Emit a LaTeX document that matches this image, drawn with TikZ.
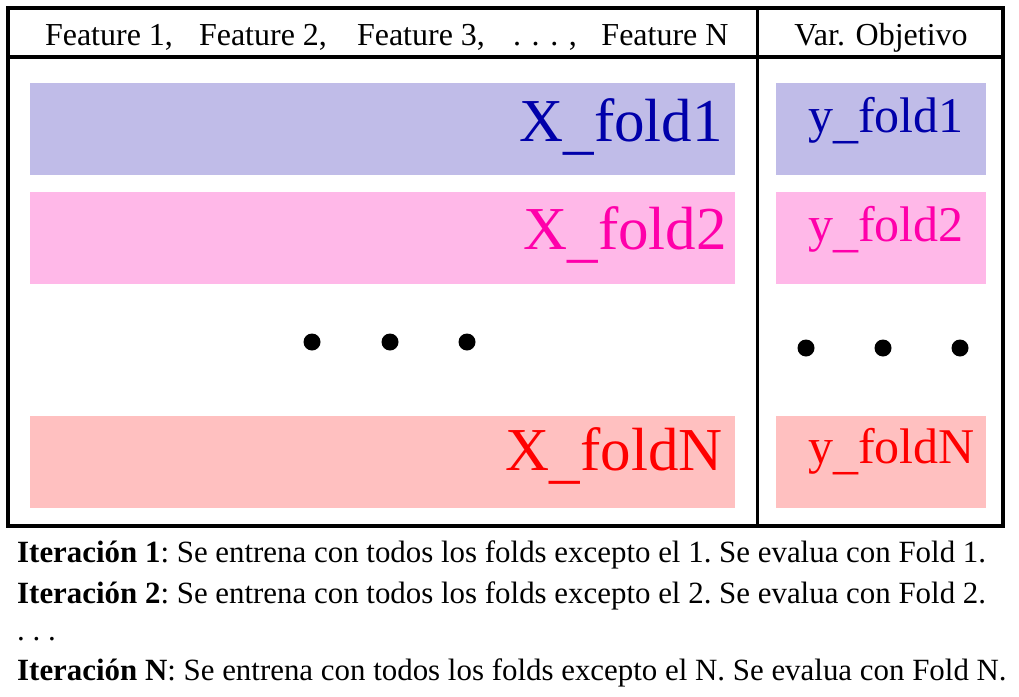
\documentclass[tikz,border=0pt]{standalone}
\usepackage{fontspec}
\setmainfont{Liberation Serif}
\definecolor{bandA}{HTML}{C0BCE8}
\definecolor{textA}{HTML}{0000AA}
\definecolor{bandB}{HTML}{FFB8E8}
\definecolor{textB}{HTML}{FF00AA}
\definecolor{bandC}{HTML}{FFC0C0}
\definecolor{textC}{HTML}{FF0000}
\newcommand{\lowus}{\raisebox{-0.1em}{\_}}
\tikzset{
  band/.style={draw=none, inner sep=0pt, minimum height=92pt},
  xband/.style={band, minimum width=705pt},
  yband/.style={band, minimum width=210pt},
  xlab/.style={anchor=base east, inner sep=0pt, font=\fontsize{61}{61}\selectfont},
  ylab/.style={anchor=base west, inner sep=0pt, font=\fontsize{50}{50}\selectfont},
  hdr/.style={anchor=base, inner sep=0pt, font=\fontsize{32}{38}\selectfont},
  iter/.style={anchor=base west, inner sep=0pt, font=\fontsize{30.9}{37}\selectfont\frenchspacing},
  dotn/.style={circle, fill=black, inner sep=0pt, minimum size=17pt},
}
\begin{document}
\begin{tikzpicture}[x=1pt, y=-1pt]
\useasboundingbox (0,0) rectangle (1019,696);
% frame
\draw[line width=4pt] (8,8) rectangle (1003,526);
\draw[line width=4pt] (8,57) -- (1003,57);
\draw[line width=3pt] (757,8) -- (757,526);
% header
\node[hdr] (h1) at (109,45) {Feature 1,};
\node[hdr] (h2) at (263,45) {Feature 2,};
\node[hdr] (h3) at (421,45) {Feature 3,};
\node[hdr] (h4) at (545,45) {. . . ,};
\node[hdr] (h5) at (665,45) {Feature N};
\node[hdr] (h6) at (881,45) {Var. Objetivo};
% bands
\node[xband, fill=bandA] (xb1) at (382.5,129) {};
\node[yband, fill=bandA] (yb1) at (881,129) {};
\node[xband, fill=bandB] (xb2) at (382.5,238) {};
\node[yband, fill=bandB] (yb2) at (881,238) {};
\node[xband, fill=bandC] (xbN) at (382.5,462) {};
\node[yband, fill=bandC] (ybN) at (881,462) {};
% labels
\node[xlab, text=textA] (xl1) at (723,141) {X\lowus fold1};
\node[ylab, text=textA] (yl1) at (808,132) {y\lowus fold1};
\node[xlab, text=textB] (xl2) at (727,249) {X\lowus fold2};
\node[ylab, text=textB] (yl2) at (808,241) {y\lowus fold2};
\node[xlab, text=textC] (xlN) at (723,470) {X\lowus foldN};
\node[ylab, text=textC] (ylN) at (808,463) {y\lowus foldN};
% dots
\node[dotn] (d1) at (312,342) {};
\node[dotn] (d2) at (390,342) {};
\node[dotn] (d3) at (467,342) {};
\node[dotn] (d4) at (806,348) {};
\node[dotn] (d5) at (883,348) {};
\node[dotn] (d6) at (960,348) {};
% iterations
\node[iter] (t1) at (17,562) {\textbf{Iteración 1}: Se entrena con todos los folds excepto el 1. Se evalua con Fold 1.};
\node[iter] (t2) at (17,603) {\textbf{Iteración 2}: Se entrena con todos los folds excepto el 2. Se evalua con Fold 2.};
\node[iter] (t3) at (17,640) {. . .};
\node[iter] (t4) at (17,680) {\textbf{Iteración N}: Se entrena con todos los folds excepto el N. Se evalua con Fold N.};
\end{tikzpicture}
\end{document}
